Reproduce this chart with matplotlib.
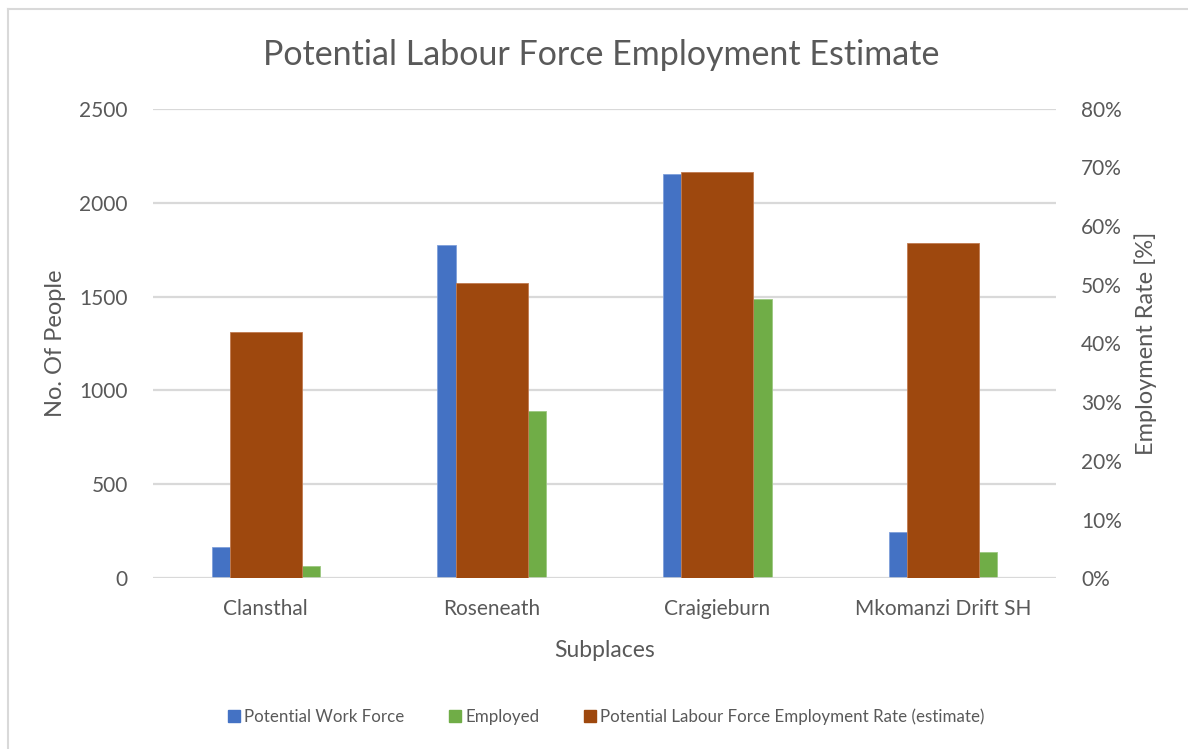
import matplotlib.pyplot as plt
import numpy as np
from matplotlib.lines import Line2D
from matplotlib.ticker import PercentFormatter

# data
subplaces = ["Clansthal", "Roseneath", "Craigieburn", "Mkomanzi Drift SH"]
work_force = [165, 1773, 2152, 248]
employed = [65, 892, 1486, 138]
emp_rate = [0.420, 0.503, 0.693, 0.571]

left_ticks = [0, 500, 1000, 1500, 2000, 2500]
right_ticks = [0, 0.1, 0.2, 0.3, 0.4, 0.5, 0.6, 0.7, 0.8]

BLUE = "#4472C4"
GREEN = "#70AD47"
BROWN = "#9E480E"
TXT = "#595959"
GRID = "#D9D9D9"

plt.rcParams["font.family"] = ["Lato", "DejaVu Sans"]

W, H = 1188, 749
fig = plt.figure(figsize=(W / 100, H / 100), dpi=100)
ax = fig.add_axes([153 / W, 1 - 578.3 / H, (1056 - 153) / W, (578.3 - 108.7) / H])
ax2 = ax.twinx()

x = np.arange(len(subplaces))
ax.bar(x - 0.2, work_force, width=0.08, color=BLUE, edgecolor="#7FA0DB", linewidth=0.6, zorder=3)
ax.bar(x + 0.2, employed, width=0.08, color=GREEN, edgecolor="#9CC881", linewidth=0.6, zorder=3)
ax2.bar(x, emp_rate, width=0.32, color=BROWN, edgecolor="#C07A50", linewidth=0.6, zorder=3)

ax.set_xlim(-0.5, 3.5)
ax.set_ylim(0, 2500)
ax2.set_ylim(0, 0.8)
ax.set_yticks(left_ticks)
ax2.set_yticks(right_ticks)
ax2.yaxis.set_major_formatter(PercentFormatter(1.0, decimals=0))
ax.set_xticks(x)
ax.set_xticklabels(subplaces)

ax.grid(axis="y", color=GRID, linewidth=1.6, zorder=0)
ax.set_axisbelow(True)
for a in (ax, ax2):
    for s in a.spines.values():
        s.set_visible(False)
    a.tick_params(length=0, labelsize=15, labelcolor=TXT)
ax.tick_params(axis="y", pad=18)
ax2.tick_params(axis="y", pad=18)
ax.tick_params(axis="x", pad=15)
# baseline
ax.axhline(0, color=GRID, linewidth=1.8, zorder=4)

ax.set_ylabel("No. Of People", fontsize=17, color=TXT, labelpad=10)
ax2.set_ylabel("Employment Rate [%]", fontsize=17, color=TXT, labelpad=9)
ax.set_xlabel("Subplaces", fontsize=16.5, color=TXT, labelpad=15)

fig.text(601 / W, 1 - 55 / H, "Potential Labour Force Employment Estimate",
         ha="center", va="center", fontsize=24.5, color=TXT)

handles = [Line2D([], [], marker="s", linestyle="none", markersize=8, color=c)
           for c in (BLUE, GREEN, BROWN)]
fig.legend(handles, ["Potential Work Force", "Employed",
                     "Potential Labour Force Employment Rate (estimate)"],
           loc="center", bbox_to_anchor=(605 / W, 1 - 717 / H), ncol=3,
           frameon=False, fontsize=12.2, labelcolor=TXT,
           handletextpad=0.1, columnspacing=2.5, handlelength=1.0)

# chart border (only top/left visible in the crop)
fig.add_artist(Line2D([8 / W, 8 / W], [0, 1 - 9 / H], transform=fig.transFigure,
                      color=GRID, linewidth=1.5))
fig.add_artist(Line2D([8 / W, 1], [1 - 9 / H, 1 - 9 / H], transform=fig.transFigure,
                      color=GRID, linewidth=1.5))

fig.savefig("out.png", dpi=100, facecolor="white")
